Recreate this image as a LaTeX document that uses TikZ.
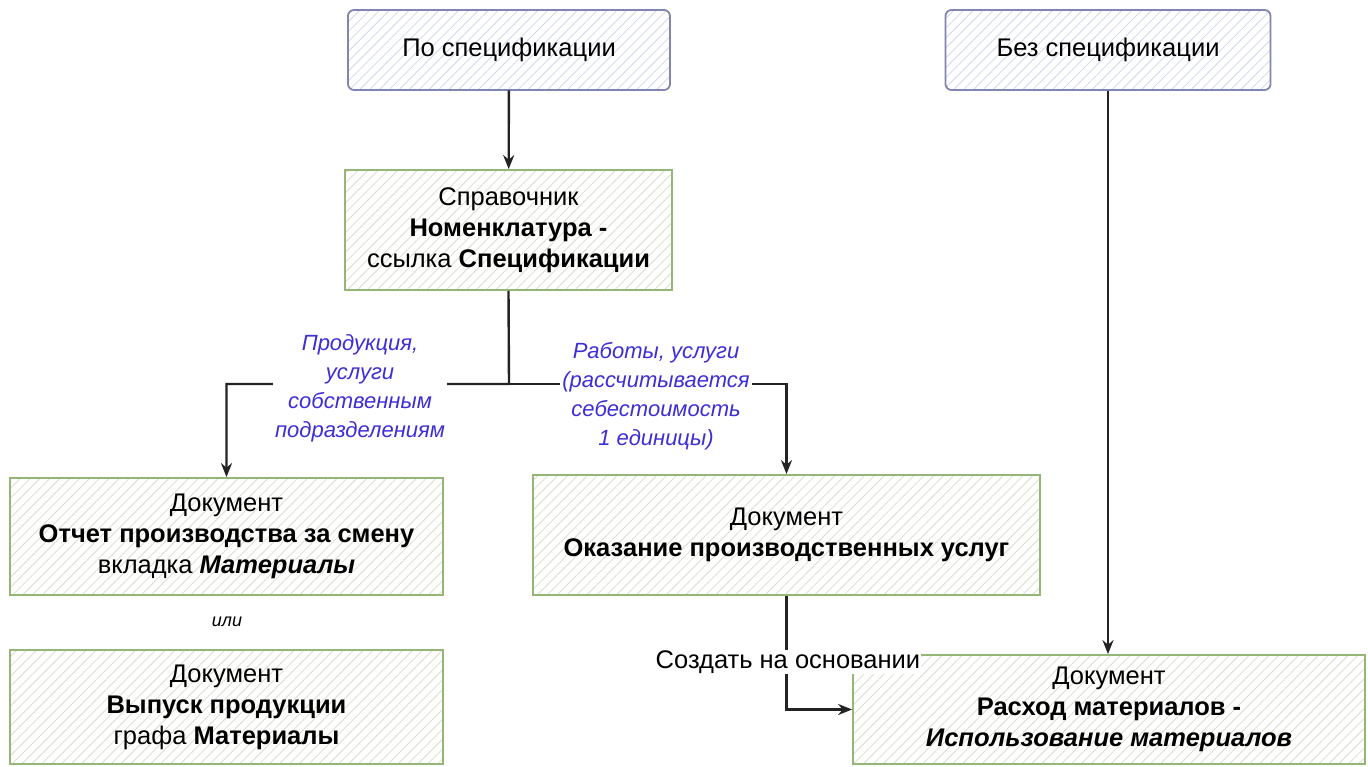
\documentclass[tikz,border=0pt]{standalone}
\usepackage{fontspec}
\setmainfont{Liberation Sans}
\usepackage{xcolor}
\usetikzlibrary{arrows.meta, patterns.meta, positioning}
\definecolor{bluebd}{RGB}{128,134,176}
\definecolor{bluehatch}{RGB}{210,214,234}
\definecolor{greenbd}{RGB}{150,182,120}
\definecolor{greenhatch}{RGB}{216,222,204}
\definecolor{lbl}{RGB}{62,46,214}
\definecolor{ln}{RGB}{35,35,35}

\begin{document}
\begin{tikzpicture}[x=1pt, y=-1pt,
  txt/.style={font=\fontsize{25.5}{31}\selectfont, align=center},
  bluebox/.style={txt, draw=bluebd, line width=1.8pt, rounded corners=6pt, inner sep=0pt,
    pattern={Lines[angle=45,distance=7pt,line width=0.8pt]}, pattern color=bluehatch},
  greenbox/.style={txt, draw=greenbd, line width=1.8pt, inner sep=0pt,
    pattern={Lines[angle=45,distance=7pt,line width=0.8pt]}, pattern color=greenhatch},
  flow/.style={draw=ln, line width=2.4pt, -{Stealth[length=14pt,width=11pt]}},
  branch/.style={font=\fontsize{22}{29}\selectfont\itshape, align=center, text=lbl, fill=white, inner sep=2pt}
]
\useasboundingbox (0,0) rectangle (1368,766);

\node[bluebox, minimum width=322pt, minimum height=80pt] (spec) at (509,50) {По спецификации};
\node[bluebox, minimum width=325pt, minimum height=80pt] (nospec) at (1108,50) {Без спецификации};
\node[greenbox, minimum width=327pt, minimum height=120pt] (nomen) at (508.5,230)
  {Справочник\\\textbf{Номенклатура -}\\ссылка \textbf{Спецификации}};
\node[greenbox, minimum width=433pt, minimum height=117pt] (otchet) at (226.5,536.5)
  {Документ\\\textbf{Отчет производства за смену}\\вкладка \textbf{\textit{Материалы}}};
\node[greenbox, minimum width=433pt, minimum height=114pt] (vypusk) at (226.5,707)
  {Документ\\\textbf{Выпуск продукции}\\графа \textbf{Материалы}};
\node[greenbox, minimum width=507pt, minimum height=120pt] (okaz) at (786.5,535)
  {Документ\\\textbf{Оказание производственных услуг}};
\node[greenbox, minimum width=512pt, minimum height=109pt] (rashod) at (1109,709.5)
  {Документ\\\textbf{Расход материалов -}\\\textbf{\textit{Использование материалов}}};
\node[font=\fontsize{18}{22}\selectfont\itshape] (ili) at (227,622) {или};

\coordinate (fork) at (509,384);
\draw[flow] (spec) -- (nomen);
\draw[flow] (nomen.south) -- (fork) -| (otchet.north);
\draw[flow] (fork) -| (okaz.north);
\draw[flow] (okaz.south) |- (rashod.west);
\draw[flow] (nospec.south) -- (nospec.south |- rashod.north);

\node[branch] (prodlbl) at (360,388) {Продукция,\\услуги\\собственным\\подразделениям};
\node[branch] (rablbl) at (656,396) {Работы, услуги\\(рассчитывается\\себестоимость\\1 единицы)};
\node[txt, fill=white, inner sep=1pt] (osnlbl) at (788,662) {Создать на основании};
\end{tikzpicture}
\end{document}
